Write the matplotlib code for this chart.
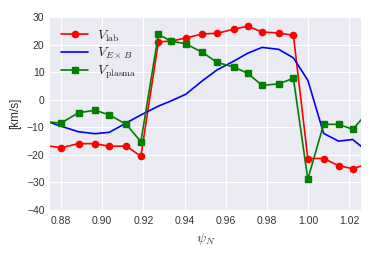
import matplotlib
matplotlib.use('Agg')
import matplotlib.pyplot as plt

psi = [0.8723, 0.8801, 0.8885, 0.8966, 0.9035, 0.9117, 0.9188, 0.9273, 0.9335,
       0.9406, 0.9487, 0.9557, 0.9639, 0.9707, 0.9777, 0.9858, 0.9929, 0.9999,
       1.0076, 1.0149, 1.0217, 1.0290]
v_lab = [-16.6, -17.4, -15.9, -15.9, -16.9, -16.8, -20.5, 21.0, 21.3,
         22.4, 23.9, 24.1, 25.6, 26.7, 24.6, 24.2, 23.4, -21.3,
         -21.3, -23.9, -25.0, -23.3]
v_exb = [-7.6, -9.6, -11.6, -12.3, -11.8, -8.4, -5.5, -2.3, -0.4,
         2.0, 6.9, 10.8, 14.0, 16.9, 19.0, 18.3, 15.2, 7.1,
         -12.2, -15.0, -14.4, -18.8]
v_plasma = [-8.0, -8.4, -4.7, -3.8, -5.5, -8.9, -15.2, 23.7, 21.3,
            20.3, 17.2, 13.6, 11.9, 9.6, 5.2, 5.8, 7.8, -28.8,
            -8.9, -8.9, -10.7, -4.6]

plt.style.use('seaborn-v0_8-darkgrid')
plt.rcParams['font.family'] = 'sans-serif'
plt.rcParams['font.sans-serif'] = ['Liberation Sans', 'DejaVu Sans']
plt.rcParams['mathtext.fontset'] = 'cm'

fig = plt.figure(figsize=(3.74, 2.59), dpi=100)
ax = fig.add_axes([0.134, 0.189, 0.831, 0.745])

ax.plot(psi, v_lab, 'r-o', lw=1.2, ms=4.5, label=r'$V_{\rm lab}$')
ax.plot(psi, v_exb, 'b-', lw=1.2, label=r'$V_{E\times B}$')
ax.plot(psi, v_plasma, 'g-s', lw=1.2, ms=4.5, label=r'$V_{\rm plasma}$')

ax.set_xlim(0.8747, 1.0257)
ax.set_ylim(-40, 30)
ax.set_xticks([0.88, 0.90, 0.92, 0.94, 0.96, 0.98, 1.00, 1.02])
ax.set_yticks(range(-40, 31, 10))
ax.tick_params(labelsize=7.5, colors='#333333', length=0, pad=4)
ax.set_xlabel(r'$\psi_N$', fontsize=10, color='#333333')
ax.set_ylabel('[km/s]', fontsize=8.5, color='#333333')
ax.legend(loc='upper left', fontsize=10, frameon=False, handlelength=1.95,
          handletextpad=0.6, labelspacing=0.18, borderaxespad=0.4)

fig.savefig('out.png', dpi=100)
